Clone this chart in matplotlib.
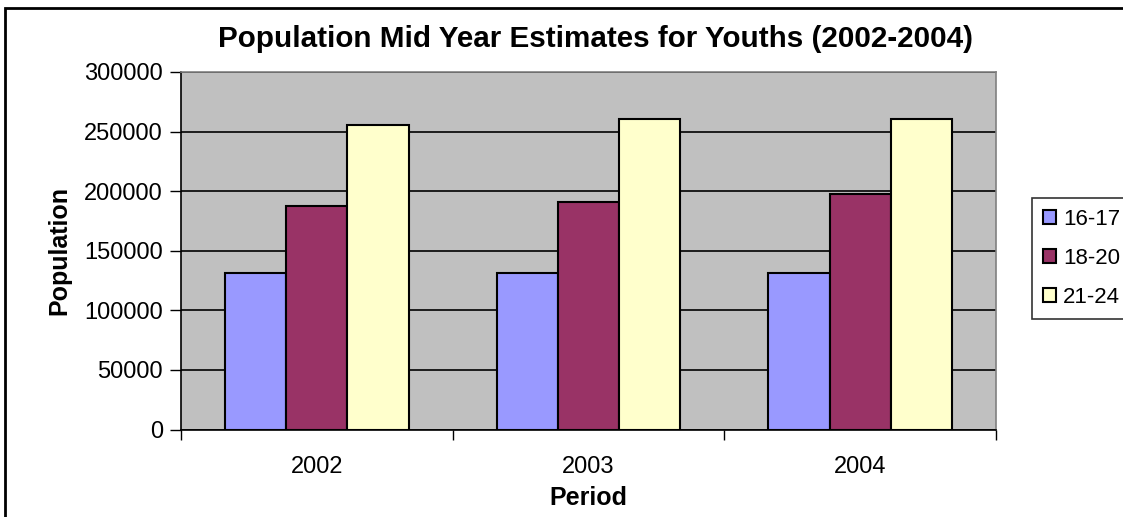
import numpy as np
import matplotlib
matplotlib.use("Agg")
import matplotlib.pyplot as plt
from matplotlib.patches import Rectangle, Patch

plt.rcParams['font.family'] = ['Liberation Sans', 'DejaVu Sans']

years = ['2002', '2003', '2004']
age_groups = ['16-17', '18-20', '21-24']
pop_16_17 = [131200, 131200, 131200]
pop_18_20 = [187600, 190900, 197400]
pop_21_24 = [255500, 260200, 260200]
colors = ['#9999FF', '#993366', '#FFFFCC']

W, H = 1123, 517
fig = plt.figure(figsize=(W / 100, H / 100), dpi=100)
ax = fig.add_axes([181 / W, (H - 429.5) / H, (996 - 181) / W, (429.5 - 72) / H])
ax.set_facecolor('#C0C0C0')

x = np.arange(len(years))
width = 0.225
for i, (vals, c) in enumerate(zip([pop_16_17, pop_18_20, pop_21_24], colors)):
    ax.bar(x + (i - 1) * width, vals, width, color=c, edgecolor='black',
           linewidth=1.5, zorder=3)

ax.set_xlim(-0.5, 2.5)
ax.set_ylim(0, 300000)
ax.set_yticks(np.arange(0, 300001, 50000))
ax.yaxis.grid(True, color='black', linewidth=1.2, zorder=1)
ax.set_axisbelow(True)

# category labels centred, ticks on the category boundaries
ax.set_xticks(x)
ax.set_xticklabels(years, fontsize=17)
ax.tick_params(axis='x', length=0, pad=19)
ax.set_xticks([-0.5, 0.5, 1.5, 2.5], minor=True)
ax.tick_params(axis='x', which='minor', length=7, width=1, direction='out')
ax.tick_params(axis='y', labelsize=17, length=8, width=1, direction='out', pad=5)

for s in ['top', 'right']:
    ax.spines[s].set_color('#808080')
    ax.spines[s].set_linewidth(1.2)
for s in ['left', 'bottom']:
    ax.spines[s].set_color('black')
    ax.spines[s].set_linewidth(1.2)

ax.set_xlabel('Period', fontsize=18, fontweight='bold', labelpad=6)
ax.set_ylabel('Population', fontsize=18, fontweight='bold', labelpad=9)
fig.text((218 + 972) / 2 / W, 1 - 39 / H,
         'Population Mid Year Estimates for Youths (2002-2004)',
         ha='center', va='center', fontsize=21.3, fontweight='bold')

handles = [Patch(facecolor=c, edgecolor='black', linewidth=1.5) for c in colors]
leg = fig.legend(handles, age_groups, loc='upper left',
                 bbox_to_anchor=(1032 / W, 1 - 198 / H), fontsize=16,
                 frameon=True, fancybox=False, edgecolor='black',
                 handlelength=0.6, handleheight=0.6, handletextpad=0.3,
                 labelspacing=0.8, borderpad=0.5, borderaxespad=0)
leg.get_frame().set_linewidth(1.2)

# chart border
fig.patches.append(Rectangle((5 / W, -0.1), 1.2, 1 - 8 / H + 0.1,
                             transform=fig.transFigure, fill=False,
                             edgecolor='black', linewidth=2))

fig.savefig('out.png', dpi=100)
